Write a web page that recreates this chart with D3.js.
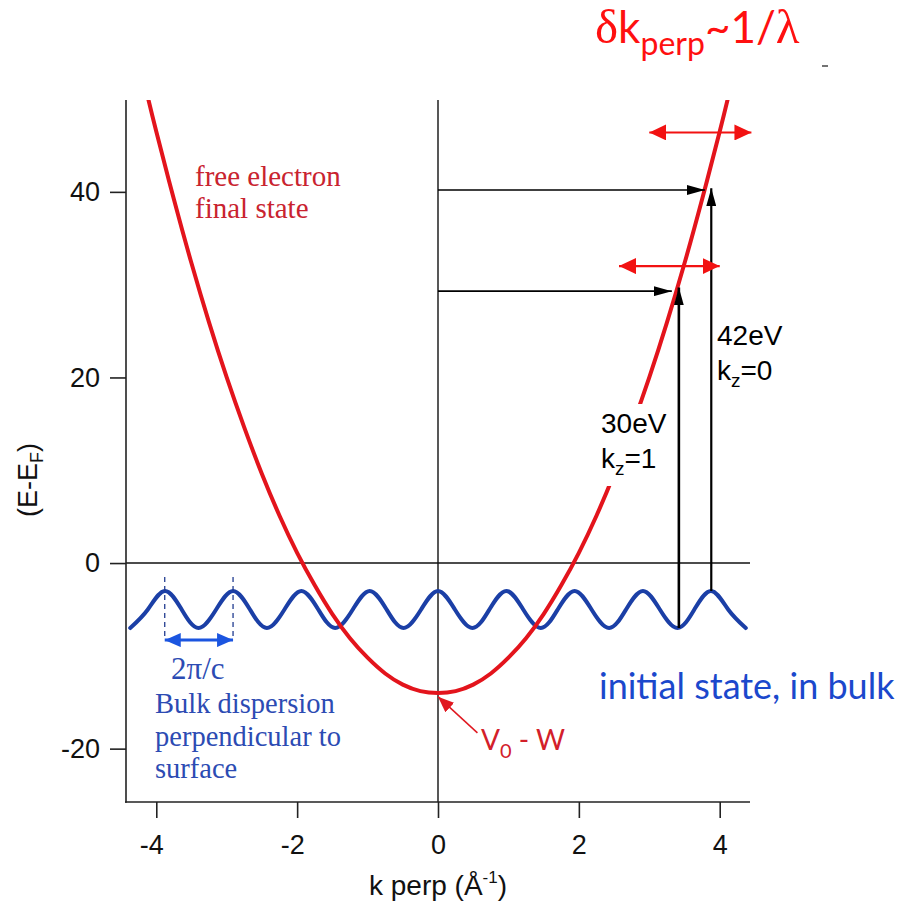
<!DOCTYPE html>
<html>
<head>
<meta charset="utf-8">
<script src="https://cdn.jsdelivr.net/npm/d3@7/dist/d3.min.js"></script>
<style>
  html, body { margin: 0; padding: 0; background: #fff; }
  svg { display: block; }
</style>
</head>
<body>
<script>
// Free-electron final state (parabola), k in 1/Å, E - E_F in eV
const kFinal = [-4.12, -4.0, -3.75, -3.5, -3.25, -3.0, -2.75, -2.5, -2.25, -2.0, -1.75, -1.5, -1.25, -1.0, -0.75, -0.5, -0.25, 0,
                0.25, 0.5, 0.75, 1.0, 1.25, 1.5, 1.75, 2.0, 2.25, 2.5, 2.75, 3.0, 3.25, 3.5, 3.75, 4.0, 4.12];
const eFinal = [50.2, 46.5, 39.2, 32.3, 25.9, 20.0, 14.6, 9.6, 5.1, 1.1, -2.4, -5.5, -8.1, -10.2, -11.9, -13.1, -13.8, -14.0,
                -13.8, -13.1, -11.9, -10.2, -8.1, -5.5, -2.4, 1.1, 5.1, 9.6, 14.6, 20.0, 25.9, 32.3, 39.2, 46.5, 50.2];

// Bulk initial-state band along k perp (peaks, midpoints, troughs)
const kWave = [-4.37, -4.12, -3.88, -3.64, -3.40, -3.15, -2.91, -2.67, -2.43, -2.18, -1.94, -1.70, -1.46, -1.21, -0.97, -0.73, -0.49, -0.24, 0,
               0.24, 0.49, 0.73, 0.97, 1.21, 1.46, 1.70, 1.94, 2.18, 2.43, 2.67, 2.91, 3.15, 3.40, 3.64, 3.88, 4.12, 4.37];
const eWave = [-7, -5, -3, -5, -7, -5, -3, -5, -7, -5, -3, -5, -7, -5, -3, -5, -7, -5, -3,
               -5, -7, -5, -3, -5, -7, -5, -3, -5, -7, -5, -3, -5, -7, -5, -3, -5, -7];

// Axis ticks
const xTicks = [-4, -2, 0, 2, 4];
const yTicks = [-20, 0, 20, 40];

// Vertical photon transitions (30 eV at k_z=1, 42 eV at k_z=0)
const photonK    = [3.42, 3.88];
const photonFrom = [-7, -3];
const photonTo   = [29.7, 40.4];
// Horizontal guides from k=0 to the final state
const guideE  = [29.3, 40.2];
const guideTo = [3.32, 3.79];
// Broadening of k perp (red double arrows)
const dkE    = [32.0, 46.4];
const dkFrom = [2.57, 3.0];
const dkTo   = [4.0, 4.45];
// One reciprocal period 2π/c
const periodK = [-3.88, -2.91];
const periodE = -8.3;
const periodTop = -1.5;
// V0 - W pointer
const v0Tail = [0.56, -18.3];
const v0Tip  = [0.0, -14.4];

const W = 908, H = 915;
const svg = d3.select("body").append("svg").attr("width", W).attr("height", H);
svg.append("rect").attr("width", W).attr("height", H).attr("fill", "#fff");

const x = d3.scaleLinear().domain([-4.43, 4.43]).range([126, 750]);
const y = d3.scaleLinear().domain([-25.75, 49.9]).range([802, 100]);

const sans = "'Liberation Sans', Arial, sans-serif";
const serif = "'Liberation Serif', 'Times New Roman', serif";
const humanist = "Lato, 'Open Sans', sans-serif";

// Arrowhead markers
const defs = svg.append("defs");
function marker(id, len, wid, color) {
  defs.append("marker")
    .attr("id", id).attr("markerUnits", "userSpaceOnUse")
    .attr("markerWidth", len).attr("markerHeight", wid)
    .attr("viewBox", `0 0 ${len} ${wid}`)
    .attr("refX", len).attr("refY", wid / 2)
    .attr("orient", "auto-start-reverse")
    .append("path").attr("d", `M0,0L${len},${wid / 2}L0,${wid}Z`).attr("fill", color);
}
marker("hBlack", 18, 10, "#000");
marker("vBlack", 18, 10, "#000");
marker("hRed", 17, 16, "#f21212");
marker("hBlue", 16, 14, "#1b55e0");
marker("hV0", 16, 13, "#e01820");

defs.append("clipPath").attr("id", "plotClip")
  .append("rect").attr("x", 126).attr("y", 100).attr("width", 624).attr("height", 702);

// Zero lines
svg.append("line").attr("x1", x(-4.43)).attr("x2", x(4.43)).attr("y1", y(0)).attr("y2", y(0))
  .attr("stroke", "#111").attr("stroke-width", 1.4);
svg.append("line").attr("x1", x(0)).attr("x2", x(0)).attr("y1", y(49.9)).attr("y2", y(-25.75))
  .attr("stroke", "#111").attr("stroke-width", 1.4);

// Axes
const gy = svg.append("g").attr("transform", `translate(${x(-4.43)},0)`)
  .call(d3.axisLeft(y).tickValues(yTicks).tickSize(16).tickPadding(10).tickFormat(d3.format("d")));
const gx = svg.append("g").attr("transform", `translate(0,${y(-25.75)})`)
  .call(d3.axisBottom(x).tickValues(xTicks).tickSize(16).tickPadding(17).tickFormat(d3.format("d")));
[gx, gy].forEach(g => {
  g.select(".domain").remove();
  g.selectAll(".tick line").attr("stroke", "#222").attr("stroke-width", 1.6);
  g.selectAll(".tick text").attr("fill", "#111").style("font-family", sans).style("font-size", "27px");
});
gx.selectAll(".tick text").text(d => d < 0 ? "-" + Math.abs(d) : d)
  .attr("dx", d => d < 0 ? -5 : 0);
gy.selectAll(".tick text").text(d => d < 0 ? "-" + Math.abs(d) : d);
svg.append("line").attr("x1", 126).attr("x2", 126).attr("y1", y(49.9)).attr("y2", y(-25.75) + 0.8)
  .attr("stroke", "#222").attr("stroke-width", 1.6);
svg.append("line").attr("x1", 125).attr("x2", x(4.43)).attr("y1", y(-25.75)).attr("y2", y(-25.75))
  .attr("stroke", "#222").attr("stroke-width", 1.6);

// Axis titles
svg.append("text").attr("transform", `translate(37,${480}) rotate(-90)`)
  .attr("text-anchor", "middle").style("font-family", sans).style("font-size", "27px").attr("fill", "#111")
  .call(t => {
    t.append("tspan").text("(E-E");
    t.append("tspan").attr("dy", 6).style("font-size", "18px").text("F");
    t.append("tspan").attr("dy", -6).text(")");
  });
svg.append("text").attr("x", 438).attr("y", 895).attr("text-anchor", "middle")
  .style("font-family", sans).style("font-size", "28px").attr("fill", "#111")
  .call(t => {
    t.append("tspan").text("k perp (Å");
    t.append("tspan").attr("dy", -12).style("font-size", "17px").text("-1");
    t.append("tspan").attr("dy", 12).text(")");
  });

const plot = svg.append("g").attr("clip-path", "url(#plotClip)");

// Bulk band
const waveLine = d3.line().x((d, i) => x(kWave[i])).y(d => y(d)).curve(d3.curveNatural);
plot.append("path").attr("d", waveLine(eWave)).attr("fill", "none")
  .attr("stroke", "#1b3fa6").attr("stroke-width", 4).attr("stroke-linejoin", "round").attr("stroke-linecap", "round");

// Free electron parabola
const finalLine = d3.line().x((d, i) => x(kFinal[i])).y(d => y(d)).curve(d3.curveNatural);
plot.append("path").attr("d", finalLine(eFinal)).attr("fill", "none")
  .attr("stroke", "#e3141c").attr("stroke-width", 4);

// Horizontal guides with arrowheads
guideE.forEach((e, i) => {
  svg.append("line").attr("x1", x(0)).attr("x2", x(guideTo[i])).attr("y1", y(e)).attr("y2", y(e))
    .attr("stroke", "#000").attr("stroke-width", 1.6).attr("marker-end", "url(#hBlack)");
});
// Photon transitions
photonK.forEach((k, i) => {
  svg.append("line").attr("x1", x(k)).attr("x2", x(k)).attr("y1", y(photonFrom[i])).attr("y2", y(photonTo[i]))
    .attr("stroke", "#000").attr("stroke-width", i === 0 ? 2.6 : 2.2).attr("marker-end", "url(#vBlack)");
});
// k perp broadening
dkE.forEach((e, i) => {
  svg.append("line").attr("x1", x(dkFrom[i])).attr("x2", x(dkTo[i])).attr("y1", y(e)).attr("y2", y(e))
    .attr("stroke", "#f21212").attr("stroke-width", 2.2)
    .attr("marker-start", "url(#hRed)").attr("marker-end", "url(#hRed)");
});

// 2π/c period marker
periodK.forEach(k => {
  svg.append("line").attr("x1", x(k)).attr("x2", x(k)).attr("y1", y(periodTop)).attr("y2", y(periodE))
    .attr("stroke", "#223c90").attr("stroke-width", 1.3).attr("stroke-dasharray", "5,4");
});
svg.append("line").attr("x1", x(periodK[0])).attr("x2", x(periodK[1])).attr("y1", y(periodE)).attr("y2", y(periodE))
  .attr("stroke", "#1b55e0").attr("stroke-width", 3)
  .attr("marker-start", "url(#hBlue)").attr("marker-end", "url(#hBlue)");

// V0 - W pointer
svg.append("line").attr("x1", x(v0Tail[0])).attr("y1", y(v0Tail[1])).attr("x2", x(v0Tip[0])).attr("y2", y(v0Tip[1]))
  .attr("stroke", "#e01820").attr("stroke-width", 1.5).attr("marker-end", "url(#hV0)");

// Labels
svg.append("text").attr("x", 195).attr("y", 186).style("font-family", serif).style("font-size", "29px")
  .attr("fill", "#c9232f").text("free electron");
svg.append("text").attr("x", 195).attr("y", 218).style("font-family", serif).style("font-size", "29px")
  .attr("fill", "#c9232f").text("final state");

svg.append("text").attr("x", 481).attr("y", 750).style("font-family", humanist).style("font-size", "28px")
  .attr("fill", "#d3202a")
  .call(t => {
    t.append("tspan").text("V");
    t.append("tspan").attr("dy", 8).style("font-size", "20px").text("0");
    t.append("tspan").attr("dy", -8).text(" - W");
  });

const blueText = "#2c4bb3";
svg.append("text").attr("x", 171).attr("y", 679).style("font-family", serif).style("font-size", "31px")
  .attr("fill", blueText).text("2π/c");
["Bulk dispersion", "perpendicular to", "surface"].forEach((s, i) => {
  svg.append("text").attr("x", 155).attr("y", 713 + i * 32.5).style("font-family", serif).style("font-size", "28.5px")
    .attr("fill", blueText).text(s);
});

svg.append("text").attr("x", 599).attr("y", 699).style("font-family", humanist).style("font-size", "36px")
  .attr("fill", "#1b48cc").text("initial state, in bulk");

// Photon energy labels
svg.append("rect").attr("x", 597).attr("y", 404).attr("width", 76).attr("height", 82).attr("fill", "#fff");
function kzLabel(xp, yE, yK, energy, kz) {
  svg.append("text").attr("x", xp).attr("y", yE).style("font-family", sans).style("font-size", "28px")
    .attr("fill", "#000").text(energy);
  svg.append("text").attr("x", xp).attr("y", yK).style("font-family", sans).style("font-size", "28px")
    .attr("fill", "#000")
    .call(t => {
      t.append("tspan").text("k");
      t.append("tspan").attr("dy", 7).style("font-size", "19px").text("z");
      t.append("tspan").attr("dy", -7).text("=" + kz);
    });
}
kzLabel(601, 433, 468, "30eV", 1);
kzLabel(717, 345, 380, "42eV", 0);

// Heading
svg.append("text").attr("x", 595).attr("y", 43).attr("fill", "#ff1010")
  .style("font-family", humanist).style("font-size", "44px")
  .call(t => {
    t.append("tspan").style("font-family", serif).style("font-size", "49px").text("δ");
    t.append("tspan").text("k");
    t.append("tspan").attr("dy", 12).style("font-size", "32px").text("perp");
    t.append("tspan").attr("dy", -12).text("~1/");
    t.append("tspan").style("font-family", serif).style("font-size", "49px").text("λ");
  });
svg.append("line").attr("x1", 822).attr("x2", 828).attr("y1", 66).attr("y2", 66)
  .attr("stroke", "#444").attr("stroke-width", 1.5);
</script>
</body>
</html>
